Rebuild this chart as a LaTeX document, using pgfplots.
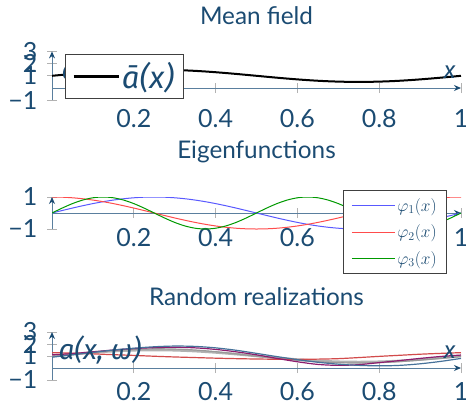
\documentclass[border=0pt]{standalone}
\usepackage{fontspec}
\setmainfont{Lato}
\newfontfamily\fira{Fira Sans}
\usepackage{pgfplots}
\pgfplotsset{compat=1.18}
\usetikzlibrary{arrows.meta}
\definecolor{txt}{HTML}{1B4B72}
\definecolor{axl}{HTML}{5A7F9E}
\definecolor{steel}{HTML}{46729A}
\definecolor{purp}{HTML}{8C1D6E}
\definecolor{rred}{HTML}{D24B4B}
\pgfplotsset{
  myax/.style={
    scale only axis, width=409pt,
    axis lines=middle,
    axis line style={draw=axl, line width=1pt, -{Stealth[length=7pt,width=6pt,color=txt]}},
    xmin=0, xmax=1,
    xtick={0.2,0.4,0.6,0.8,1},
    xticklabels={0.2,0.4,0.6,0.8,1},
    tick align=center, major tick length=10pt,
    tick style={gray!60, line width=0.8pt},
    ticklabel style={font=\fontsize{25}{29}\selectfont, text=txt},
    yticklabel style={anchor=east, xshift=-6pt},
    title style={font=\fontsize{24.3}{28}\selectfont, text=txt, at={(axis description cs:0.5,1)}, anchor=base},
    label style={font=\fontsize{28}{32}\selectfont, text=txt},
    xlabel style={font=\fontsize{24}{28}\selectfont, anchor=base east, xshift=-2pt, yshift=9.7pt},
    ylabel style={rotate=0, anchor=base west, at={(axis description cs:0,0.417)}, xshift=3pt},
  }
}
\begin{document}
\begin{tikzpicture}
% ---------------- Mean field
\begin{axis}[myax, at={(52pt,-100.2pt)}, anchor=south west, height=48.8pt,
  ymin=-1, ymax=3, ytick={-1,1,2,3}, yticklabels={−1,1,2,3},
  title={Mean field}, title style={yshift=20.5pt},
  xlabel={\fira\itshape x},
  xlabel style={at={(axis description cs:1,0.25)}},
  ylabel={\fira\itshape ā(x)}, ylabel style={xshift=3pt},
  xticklabel style={anchor=base, yshift=-34pt},
  legend style={at={(axis description cs:0.0318,0.947)}, anchor=north west,
    draw=black!75, line width=0.8pt, fill=white, text=txt,
    font=\fira\itshape\fontsize{31}{34}\selectfont, inner xsep=7pt, inner ysep=6pt},
  legend image code/.code={\draw[#1, line width=2.5pt] (0pt,0pt) -- (45pt,0pt);},
]
\addplot[black, line width=2pt, smooth] coordinates {(0,1) (0.025,1.078) (0.05,1.155) (0.075,1.227) (0.1,1.294) (0.125,1.354) (0.15,1.405) (0.175,1.446) (0.2,1.476) (0.225,1.494) (0.25,1.5) (0.275,1.494) (0.3,1.476) (0.325,1.446) (0.35,1.405) (0.375,1.354) (0.4,1.294) (0.425,1.227) (0.45,1.155) (0.475,1.078) (0.5,1) (0.525,0.922) (0.55,0.845) (0.575,0.773) (0.6,0.706) (0.625,0.646) (0.65,0.595) (0.675,0.554) (0.7,0.524) (0.725,0.506) (0.75,0.5) (0.775,0.506) (0.8,0.524) (0.825,0.554) (0.85,0.595) (0.875,0.646) (0.9,0.706) (0.925,0.773) (0.95,0.845) (0.975,0.922) (1,1)};
\addlegendentry{ā(x)}
\end{axis}
% ---------------- Eigenfunctions
\begin{axis}[myax, at={(52pt,-229pt)}, anchor=south west, height=32pt,
  ymin=-1, ymax=1, ytick={-1,1}, yticklabels={−1,1},
  title={Eigenfunctions}, title style={yshift=32.7pt},
  xticklabel style={anchor=base, yshift=-28pt},
  legend style={at={(axis description cs:0.7115,1.219)}, anchor=north west,
    draw=black!75, line width=0.8pt, fill=white, text=txt,
    font=\fontsize{18}{20}\selectfont, row sep=8pt, inner xsep=8pt, inner ysep=6pt},
  legend cell align=left,
  legend image code/.code={\draw[#1, line width=1pt] (0pt,0pt) -- (43pt,0pt);},
]
\addplot[blue!65, line width=1pt, smooth] coordinates {(0,0) (0.025,0.156) (0.05,0.309) (0.075,0.454) (0.1,0.588) (0.125,0.707) (0.15,0.809) (0.175,0.891) (0.2,0.951) (0.225,0.988) (0.25,1) (0.275,0.988) (0.3,0.951) (0.325,0.891) (0.35,0.809) (0.375,0.707) (0.4,0.588) (0.425,0.454) (0.45,0.309) (0.475,0.156) (0.5,0) (0.525,-0.156) (0.55,-0.309) (0.575,-0.454) (0.6,-0.588) (0.625,-0.707) (0.65,-0.809) (0.675,-0.891) (0.7,-0.951) (0.725,-0.988) (0.75,-1) (0.775,-0.988) (0.8,-0.951) (0.825,-0.891) (0.85,-0.809) (0.875,-0.707) (0.9,-0.588) (0.925,-0.454) (0.95,-0.309) (0.975,-0.156) (1,0)};
\addlegendentry{$\varphi_1(x)$}
\addplot[red!70, line width=1pt, smooth] coordinates {(0,1) (0.025,0.988) (0.05,0.951) (0.075,0.891) (0.1,0.809) (0.125,0.707) (0.15,0.588) (0.175,0.454) (0.2,0.309) (0.225,0.156) (0.25,0) (0.275,-0.156) (0.3,-0.309) (0.325,-0.454) (0.35,-0.588) (0.375,-0.707) (0.4,-0.809) (0.425,-0.891) (0.45,-0.951) (0.475,-0.988) (0.5,-1) (0.525,-0.988) (0.55,-0.951) (0.575,-0.891) (0.6,-0.809) (0.625,-0.707) (0.65,-0.588) (0.675,-0.454) (0.7,-0.309) (0.725,-0.156) (0.75,0) (0.775,0.156) (0.8,0.309) (0.825,0.454) (0.85,0.588) (0.875,0.707) (0.9,0.809) (0.925,0.891) (0.95,0.951) (0.975,0.988) (1,1)};
\addlegendentry{$\varphi_2(x)$}
\addplot[green!60!black, line width=1pt, smooth] coordinates {(0,0) (0.025,0.309) (0.05,0.588) (0.075,0.809) (0.1,0.951) (0.125,1) (0.15,0.951) (0.175,0.809) (0.2,0.588) (0.225,0.309) (0.25,0) (0.275,-0.309) (0.3,-0.588) (0.325,-0.809) (0.35,-0.951) (0.375,-1) (0.4,-0.951) (0.425,-0.809) (0.45,-0.588) (0.475,-0.309) (0.5,0) (0.525,0.309) (0.55,0.588) (0.575,0.809) (0.6,0.951) (0.625,1) (0.65,0.951) (0.675,0.809) (0.7,0.588) (0.725,0.309) (0.75,0) (0.775,-0.309) (0.8,-0.588) (0.825,-0.809) (0.85,-0.951) (0.875,-1) (0.9,-0.951) (0.925,-0.809) (0.95,-0.588) (0.975,-0.309) (1,0)};
\addlegendentry{$\varphi_3(x)$}
\end{axis}
% ---------------- Random realizations
\begin{axis}[myax, at={(52pt,-380pt)}, anchor=south west, height=48pt,
  ymin=-1, ymax=3, ytick={-1,1,2,3}, yticklabels={−1,1,2,3},
  title={Random realizations}, title style={yshift=20.3pt},
  xlabel={\fira\itshape x},
  xlabel style={at={(axis description cs:1,0.25)}},
  ylabel={\fira\itshape a(x, ω)},
  xticklabel style={anchor=base, yshift=-27pt},
]
\addplot[black!30, line width=2.5pt, smooth] coordinates {(0,1) (0.05,1.155) (0.1,1.294) (0.15,1.405) (0.2,1.476) (0.25,1.5) (0.3,1.476) (0.35,1.405) (0.4,1.294) (0.45,1.155) (0.5,1) (0.55,0.845) (0.6,0.706) (0.65,0.595) (0.7,0.524) (0.75,0.5) (0.8,0.524) (0.85,0.595) (0.9,0.706) (0.95,0.845) (1,1)};
\addplot[black!40, line width=1.2pt, smooth] coordinates {(0,0.95) (0.05,1.12) (0.1,1.3) (0.15,1.45) (0.2,1.55) (0.25,1.6) (0.3,1.58) (0.35,1.5) (0.4,1.36) (0.45,1.18) (0.5,0.98) (0.55,0.8) (0.6,0.64) (0.65,0.52) (0.7,0.44) (0.75,0.42) (0.8,0.45) (0.85,0.53) (0.9,0.66) (0.95,0.8) (1,0.95)};
\addplot[rred, line width=1.2pt, smooth] coordinates {(0,1.28) (0.05,1.24) (0.1,1.18) (0.15,1.11) (0.2,1.05) (0.25,0.98) (0.3,0.92) (0.35,0.87) (0.4,0.82) (0.45,0.78) (0.5,0.75) (0.55,0.73) (0.6,0.72) (0.65,0.74) (0.7,0.78) (0.75,0.87) (0.8,0.97) (0.85,1.06) (0.9,1.15) (0.95,1.22) (1,1.28)};
\addplot[purp, line width=1.2pt, smooth] coordinates {(0,1.1) (0.05,1.2) (0.1,1.35) (0.15,1.5) (0.2,1.62) (0.25,1.7) (0.3,1.73) (0.35,1.68) (0.4,1.55) (0.45,1.35) (0.5,1.1) (0.55,0.8) (0.6,0.52) (0.65,0.3) (0.7,0.22) (0.75,0.28) (0.8,0.45) (0.85,0.62) (0.9,0.8) (0.95,0.96) (1,1.08)};
\addplot[steel, line width=1.2pt, smooth] coordinates {(0,0.9) (0.05,1.1) (0.1,1.3) (0.15,1.5) (0.2,1.65) (0.25,1.77) (0.3,1.83) (0.35,1.8) (0.4,1.68) (0.45,1.48) (0.5,1.22) (0.55,0.95) (0.6,0.7) (0.65,0.48) (0.7,0.32) (0.75,0.22) (0.8,0.18) (0.85,0.22) (0.9,0.35) (0.95,0.55) (1,0.8)};
\end{axis}
\pgfresetboundingbox
\path[use as bounding box] (0pt,0pt) rectangle (466pt,-400pt);
\end{tikzpicture}
\end{document}
